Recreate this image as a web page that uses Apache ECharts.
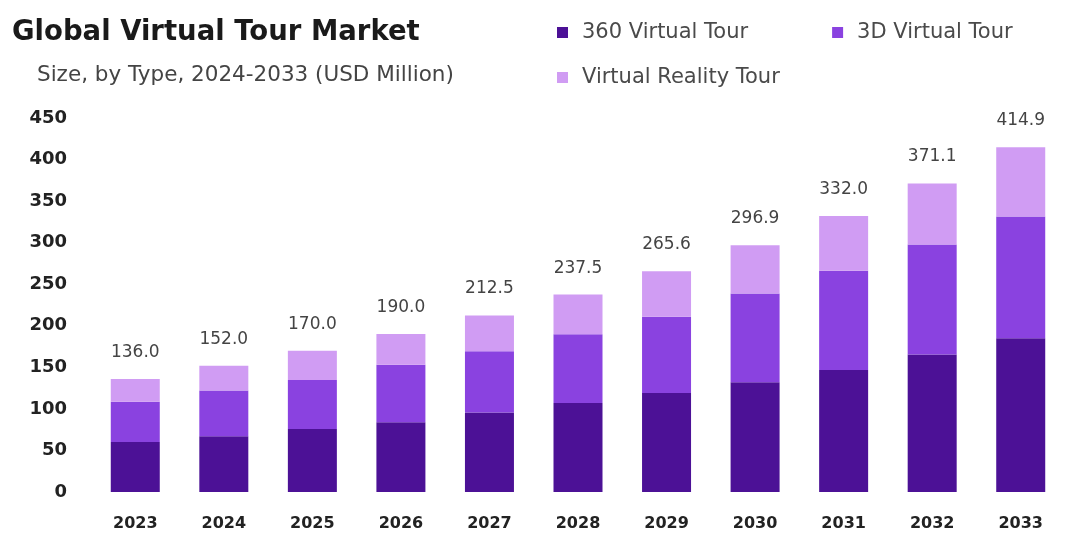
<!DOCTYPE html>
<html>
<head>
<meta charset="utf-8">
<script src="https://cdn.jsdelivr.net/npm/echarts@6/dist/echarts.min.js"></script>
<style>
  html, body { margin: 0; padding: 0; background: #ffffff; }
  #chart { width: 1065px; height: 538px; }
</style>
</head>
<body>
<div id="chart"></div>
<script>
// Market size by type, USD million
const years = ['2023', '2024', '2025', '2026', '2027', '2028', '2029', '2030', '2031', '2032', '2033'];
const tour360 = [60.1, 67.2, 75.7, 84.0, 95.7, 107.0, 119.0, 132.1, 146.9, 165.4, 184.9];
const tour3D = [48.4, 54.8, 59.0, 69.2, 73.7, 82.7, 92.0, 106.8, 119.3, 132.4, 146.5];
const tourVR = [27.5, 30.0, 35.3, 36.8, 43.1, 47.8, 54.6, 58.0, 65.8, 73.3, 83.5];
const totals = [136.0, 152.0, 170.0, 190.0, 212.5, 237.5, 265.6, 296.9, 332.0, 371.1, 414.9];
const yTicks = [0, 50, 100, 150, 200, 250, 300, 350, 400, 450];

const FONT = '"DejaVu Sans", "Noto Sans", sans-serif';
const chart = echarts.init(document.getElementById('chart'), null, { renderer: 'canvas' });

const legendText = {
  color: '#4a4a4a', fontSize: 21, fontFamily: FONT, padding: [0, 0, 0, 9]
};

chart.setOption({
  backgroundColor: '#ffffff',
  animation: false,
  title: [
    {
      text: 'Global Virtual Tour Market',
      left: 7, top: 14,
      textStyle: { fontFamily: FONT, fontWeight: 'bold', fontSize: 27.5, color: '#1a1a1a' }
    },
    {
      text: 'Size, by Type, 2024-2033 (USD Million)',
      left: 32, top: 59,
      textStyle: { fontFamily: FONT, fontWeight: 'normal', fontSize: 21.5, color: '#444444' }
    }
  ],
  legend: [
    {
      data: ['360 Virtual Tour', '3D Virtual Tour'],
      left: 552, top: 17,
      icon: 'rect', itemWidth: 11, itemHeight: 11, itemGap: 84,
      textStyle: legendText
    },
    {
      data: ['Virtual Reality Tour'],
      left: 552, top: 62,
      icon: 'rect', itemWidth: 11, itemHeight: 11,
      textStyle: legendText
    }
  ],
  grid: { left: 91, width: 977, top: 118, bottom: 46, containLabel: false },
  xAxis: {
    type: 'category',
    data: years,
    axisLine: { show: false },
    axisTick: { show: false },
    axisLabel: {
      margin: 24, color: '#222222', fontFamily: FONT, fontWeight: 'bold', fontSize: 16
    }
  },
  yAxis: {
    type: 'value',
    min: yTicks[0], max: yTicks[yTicks.length - 1], interval: 50,
    splitLine: { show: false },
    axisLine: { show: false },
    axisTick: { show: false },
    axisLabel: {
      margin: 24, color: '#222222', fontFamily: FONT, fontWeight: 'bold', fontSize: 18
    }
  },
  series: [
    {
      name: '360 Virtual Tour', type: 'bar', stack: 'size', barWidth: 49,
      itemStyle: { color: '#4c1196' },
      data: tour360
    },
    {
      name: '3D Virtual Tour', type: 'bar', stack: 'size', barWidth: 49,
      itemStyle: { color: '#8a42e0' },
      data: tour3D
    },
    {
      name: 'Virtual Reality Tour', type: 'bar', stack: 'size', barWidth: 49,
      itemStyle: { color: '#d09cf3' },
      data: tourVR,
      label: {
        show: true, position: 'top', distance: 18,
        color: '#444444', fontFamily: FONT, fontSize: 17,
        formatter: (p) => totals[p.dataIndex].toFixed(1)
      }
    }
  ]
});
</script>
</body>
</html>
